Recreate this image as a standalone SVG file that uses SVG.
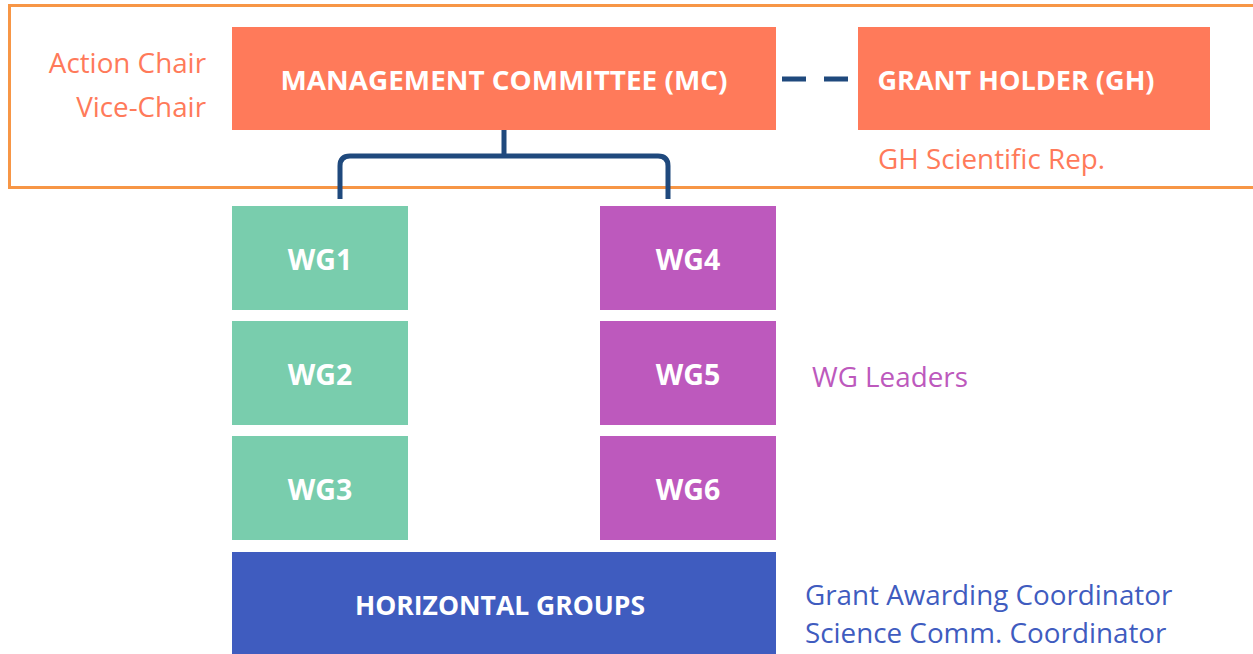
<svg xmlns="http://www.w3.org/2000/svg" width="1253" height="654" viewBox="0 0 1253 654">
<style>
.box-title{font-family:"Open Sans","Liberation Sans",sans-serif;font-weight:bold;fill:#ffffff;text-anchor:middle}
.lbl{font-family:"Open Sans","Liberation Sans",sans-serif;font-size:27.8px}
.orange{fill:#FF7A5A}
.green{fill:#79CDAD}
.purple{fill:#BD59BD}
.blue{fill:#3F5CBF}
.conn{stroke:#1F497D;stroke-width:5;fill:none}
.wg{font-size:28.5px}
</style>
<rect width="1253" height="654" fill="#ffffff"/>
<rect id="frame" x="9.5" y="5.5" width="1260" height="182" fill="none" stroke="#F79646" stroke-width="3"/>
<g id="connectors">
<path class="conn" d="M504,130 V156 M340,199 V166 Q340,156 350,156 H658 Q668,156 668,166 V199"/>
<line class="conn" x1="782" y1="79" x2="852" y2="79" stroke-dasharray="24,18"/>
</g>
<g id="mc"><rect class="orange" x="232" y="27" width="544" height="103"/><text class="box-title" x="504" y="90" font-size="27" textLength="447" lengthAdjust="spacingAndGlyphs">MANAGEMENT COMMITTEE (MC)</text></g>
<g id="gh"><rect class="orange" x="858" y="27" width="352" height="103"/><text class="box-title" x="1016" y="90" font-size="27" textLength="277" lengthAdjust="spacingAndGlyphs">GRANT HOLDER (GH)</text></g>
<g id="chairs"><text class="lbl orange" x="206" y="73" text-anchor="end">Action Chair</text><text class="lbl orange" x="206" y="117" text-anchor="end">Vice-Chair</text></g>
<g id="ghrep"><text class="lbl orange" x="878" y="169">GH Scientific Rep.</text></g>
<g id="wg1"><rect class="green" x="232" y="206" width="176" height="104"/><text class="box-title wg" x="320" y="270">WG1</text></g>
<g id="wg2"><rect class="green" x="232" y="321" width="176" height="104"/><text class="box-title wg" x="320" y="385">WG2</text></g>
<g id="wg3"><rect class="green" x="232" y="436" width="176" height="104"/><text class="box-title wg" x="320" y="500">WG3</text></g>
<g id="wg4"><rect class="purple" x="600" y="206" width="176" height="104"/><text class="box-title wg" x="688" y="270">WG4</text></g>
<g id="wg5"><rect class="purple" x="600" y="321" width="176" height="104"/><text class="box-title wg" x="688" y="385">WG5</text></g>
<g id="wg6"><rect class="purple" x="600" y="436" width="176" height="104"/><text class="box-title wg" x="688" y="500">WG6</text></g>
<g id="wgleaders"><text class="lbl purple" x="812" y="387">WG Leaders</text></g>
<g id="hg"><rect class="blue" x="232" y="552" width="544" height="110"/><text class="box-title" x="500" y="615" font-size="27" textLength="290" lengthAdjust="spacingAndGlyphs">HORIZONTAL GROUPS</text></g>
<g id="coordinators"><text class="lbl blue" x="805" y="605">Grant Awarding Coordinator</text><text class="lbl blue" x="805" y="643">Science Comm. Coordinator</text></g>
</svg>
